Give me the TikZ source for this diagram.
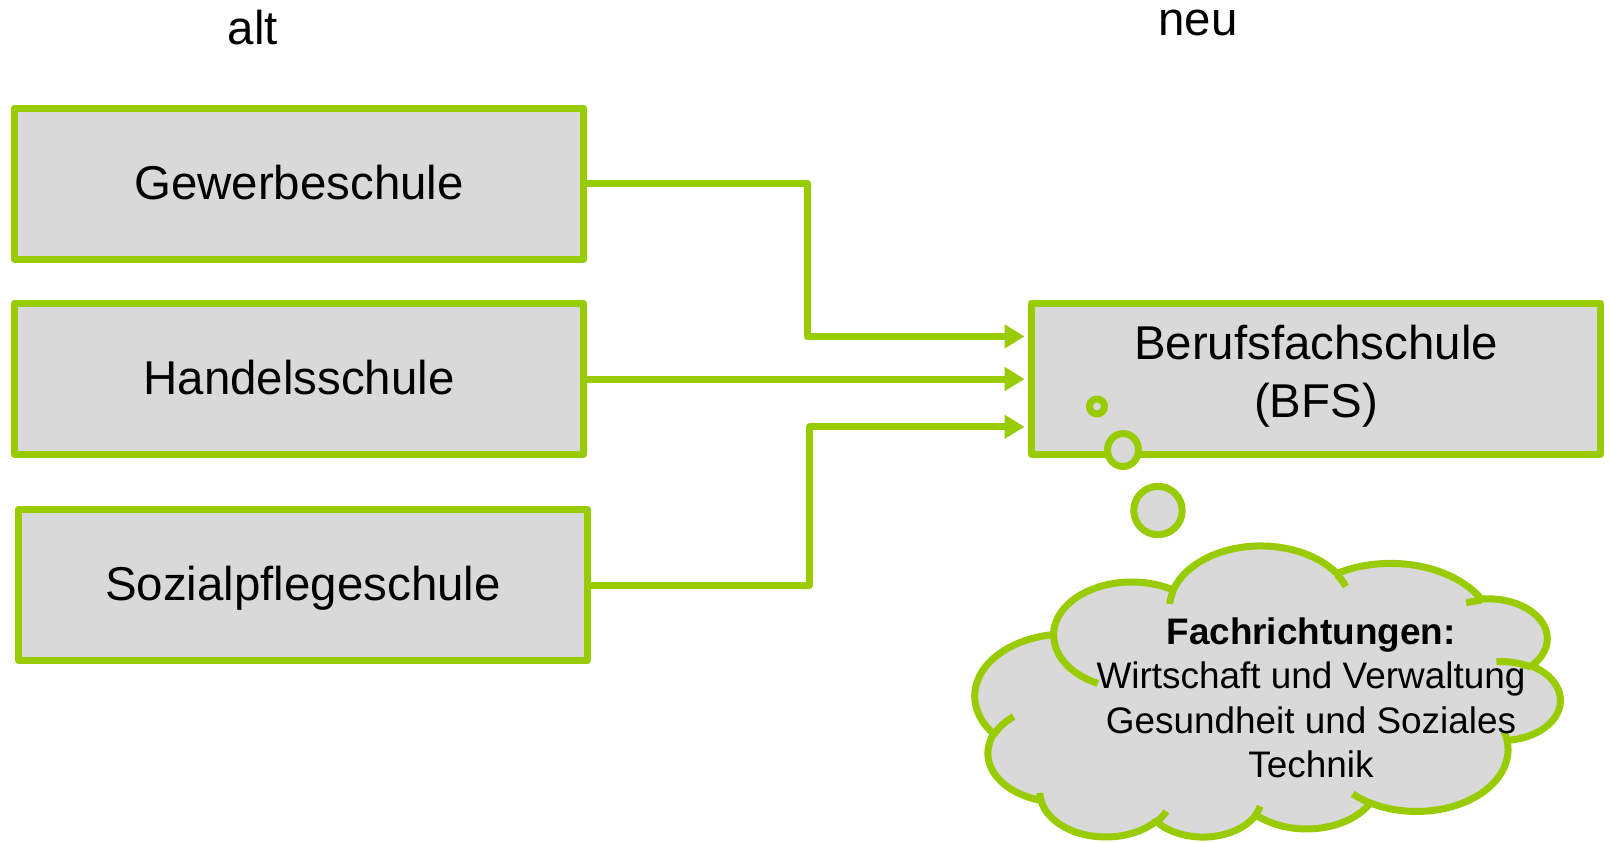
\documentclass[tikz,border=0pt]{standalone}
\usepackage{fontspec}
\setmainfont{Liberation Sans}
\usetikzlibrary{positioning, arrows.meta}
\definecolor{schoolgreen}{HTML}{99CC00}
\definecolor{schoolgray}{HTML}{D9D9D9}
\tikzstyle{sbox} = [%
  rectangle,
  draw=schoolgreen,
  fill=schoolgray,
  line width=0.07cm,
  minimum width=5.69cm,
  minimum height=1.51cm,
  inner sep=0pt,
  align=center,
  text height=0.89em,
  text depth=0pt,
  font=\fontsize{13.5}{16.5}\selectfont
]

\begin{document}
\begin{tikzpicture}[%
  >={Triangle[length=0.2cm,width=0.23cm]},
  line join=round,
  conn/.style={->, draw=schoolgreen, line width=0.07cm, shorten >=0.035cm},
  bubble/.style={draw=schoolgreen, fill=schoolgray, line width=0.07cm},
  stub/.style={draw=schoolgreen, line width=0.07cm},
  headline/.style={anchor=base, font=\fontsize{13.5}{17}\selectfont},
  cloudtext/.style={align=center, inner sep=0pt, font=\fontsize{10.5}{12.66}\selectfont}
]
  \useasboundingbox (0,0) rectangle (16.10,-8.42);

  % Headings
  \node[headline] (alt) at (2.53,-0.44) {alt};
  \node[headline] (neu) at (11.98,-0.35) {neu};

  % Nodes
  \node[sbox] (gew) at (2.99,-1.835) {Gewerbeschule};
  \node[sbox,below=0.375cm of gew] (han) {Handelsschule};
  \node[sbox,below=0.48cm of han,xshift=0.04cm] (soz) {Sozialpflegeschule};
  \node[sbox,right=4.41cm of han,text height={},text depth=4.3pt] (bfs) {Berufsfachschule\\(BFS)};

  % Edges
  \draw[conn] (gew.east) -- ++(2.205,0) |- ([yshift=0.426cm]bfs.west);
  \draw[conn] (han.east) -- (bfs.west);
  \draw[conn] (soz.east) -- ++(2.185,0) |- ([yshift=-0.478cm]bfs.west);

  % Thought bubbles
  \draw[bubble] (10.97,-4.065) circle (0.075);
  \draw[bubble] (11.23,-4.50) ellipse (0.155 and 0.165);
  \draw[bubble] (11.58,-5.105) circle (0.242);

  % Cloud (turned upside down)
  \begin{scope}[shift={(15.60,-8.38)}, xscale=-0.0585, yscale=0.0291]
    \filldraw[bubble] (9.028,33.264)
      arc[start angle=172.25, end angle=300.37, x radius=15.632, y radius=21.273]
      arc[start angle=207.97, end angle=314.54, x radius=12.345, y radius=16.822]
      arc[start angle=206.51, end angle=322.70, x radius=10.104, y radius=13.762]
      arc[start angle=220.29, end angle=349.79, x radius=11.243, y radius=15.266]
      arc[start angle=285.23, end angle=383.21, x radius=12.345, y radius=16.836]
      arc[start angle=322.48, end angle=441.86, x radius=15.683, y radius=21.343]
      arc[start angle=0.46, end angle=121.98, x radius=13.391, y radius=18.211]
      arc[start angle=16.85, end angle=146.23, x radius=15.630, y radius=21.331]
      arc[start angle=58.98, end angle=150.19, x radius=17.870, y radius=24.405]
      arc[start angle=83.31, end angle=223.09, x radius=10.093, y radius=13.699]
      arc[start angle=120.36, end angle=263.66, x radius=10.058, y radius=13.762]
      -- cycle;
    \draw[stub] (10.863,60.595) arc[start angle=85.54, end angle=120.36, x radius=10.058, y radius=13.762];
    \draw[stub] (16.037,80.785) arc[start angle=68.23, end angle=83.31, x radius=10.093, y radius=13.699];
    \draw[stub] (38.144,90.486) arc[start angle=146.23, end angle=158.47, x radius=15.630, y radius=21.331];
    \draw[stub] (66.729,80.442) arc[start angle=4.74, end angle=16.85, x radius=15.630, y radius=21.331];
    \draw[stub] (79.002,53.134) arc[start angle=-64.03, end angle=0.46, x radius=13.391, y radius=18.211];
    \draw[stub] (96.755,35.542) arc[start angle=23.21, end angle=49.64, x radius=12.345, y radius=16.836];
    \draw[stub] (88.713,12.560) arc[start angle=-10.21, end angle=0.82, x radius=11.243, y radius=15.266];
    \draw[stub] (67.310,9.148) arc[start angle=-156.28, end angle=-139.71, x radius=11.243, y radius=15.266];
    \draw[stub] (51.252,10.926) arc[start angle=-167.73, end angle=-153.49, x radius=10.104, y radius=13.762];
    \draw[stub] (32.407,12.019) arc[start angle=-59.63, end angle=-45.72, x radius=15.632, y radius=21.273];
    \draw[stub] (9.553,36.549) arc[start angle=163.19, end angle=172.25, x radius=15.632, y radius=21.273];
  \end{scope}

  \node[cloudtext] (fach) at (13.11,-6.98) {\textbf{Fachrichtungen:}\\Wirtschaft und Verwaltung\\Gesundheit und Soziales\\Technik};

\end{tikzpicture}
\end{document}
